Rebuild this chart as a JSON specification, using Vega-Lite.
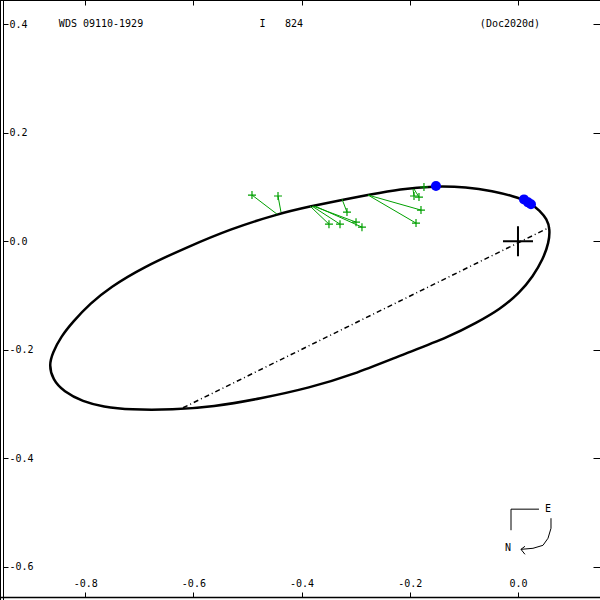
{
  "$schema": "https://vega.github.io/schema/vega-lite/v6.json",
  "width": 600,
  "height": 600,
  "padding": 0,
  "autosize": {"type": "none"},
  "background": "white",
  "config": {
    "view": {"stroke": "black", "strokeWidth": 1},
    "axis": {"grid": false, "tickColor": "black", "domainColor": "black", "labelColor": "black", "labelFont": "DejaVu Sans Mono", "labelFontSize": 10, "title": null, "tickWidth": 1, "domainWidth": 1},
    "text": {"font": "DejaVu Sans Mono", "fontSize": 10, "color": "black"}
  },
  "datasets": {
    "orbit": [
      {"i": 0, "x": 0.0591, "y": 0.0222},
      {"i": 1, "x": 0.0536, "y": 0.0407},
      {"i": 2, "x": 0.0407, "y": 0.0555},
      {"i": 3, "x": 0.0222, "y": 0.0721},
      {"i": 4, "x": -0.0092, "y": 0.0832},
      {"i": 5, "x": -0.0462, "y": 0.0924},
      {"i": 6, "x": -0.0943, "y": 0.1000},
      {"i": 7, "x": -0.1571, "y": 0.1017},
      {"i": 8, "x": -0.2181, "y": 0.0961},
      {"i": 9, "x": -0.2736, "y": 0.0860},
      {"i": 10, "x": -0.3235, "y": 0.0765},
      {"i": 11, "x": -0.3845, "y": 0.0640},
      {"i": 12, "x": -0.4455, "y": 0.0499},
      {"i": 13, "x": -0.5323, "y": 0.0222},
      {"i": 14, "x": -0.6118, "y": -0.0111},
      {"i": 15, "x": -0.6932, "y": -0.0481},
      {"i": 16, "x": -0.7542, "y": -0.0850},
      {"i": 17, "x": -0.7911, "y": -0.1150},
      {"i": 18, "x": -0.8226, "y": -0.1480},
      {"i": 19, "x": -0.8450, "y": -0.1760},
      {"i": 20, "x": -0.8600, "y": -0.2050},
      {"i": 21, "x": -0.8670, "y": -0.2280},
      {"i": 22, "x": -0.8600, "y": -0.2550},
      {"i": 23, "x": -0.8400, "y": -0.2770},
      {"i": 24, "x": -0.8041, "y": -0.2957},
      {"i": 25, "x": -0.7671, "y": -0.3050},
      {"i": 26, "x": -0.7172, "y": -0.3105},
      {"i": 27, "x": -0.6377, "y": -0.3105},
      {"i": 28, "x": -0.5638, "y": -0.3050},
      {"i": 29, "x": -0.4769, "y": -0.2902},
      {"i": 30, "x": -0.3845, "y": -0.2699},
      {"i": 31, "x": -0.3050, "y": -0.2458},
      {"i": 32, "x": -0.2181, "y": -0.2107},
      {"i": 33, "x": -0.1257, "y": -0.1756},
      {"i": 34, "x": -0.0758, "y": -0.1497},
      {"i": 35, "x": -0.0333, "y": -0.1257},
      {"i": 36, "x": 0.0037, "y": -0.0943},
      {"i": 37, "x": 0.0277, "y": -0.0647},
      {"i": 38, "x": 0.0462, "y": -0.0333},
      {"i": 39, "x": 0.0573, "y": -0.0018}
    ],
    "apsides": [
      {"x": -0.6192, "y": -0.3068},
      {"x": 0.0591, "y": 0.0259}
    ],
    "resid": [
      {"xm": -0.4917, "ym": 0.0850, "xo": -0.4455, "yo": 0.0499},
      {"xm": -0.4436, "ym": 0.0832, "xo": -0.4381, "yo": 0.0536},
      {"xm": -0.3494, "ym": 0.0314, "xo": -0.3845, "yo": 0.0647},
      {"xm": -0.3290, "ym": 0.0314, "xo": -0.3808, "yo": 0.0647},
      {"xm": -0.2994, "ym": 0.0351, "xo": -0.3789, "yo": 0.0647},
      {"xm": -0.2884, "ym": 0.0259, "xo": -0.3752, "yo": 0.0647},
      {"xm": -0.3161, "ym": 0.0536, "xo": -0.3253, "yo": 0.0776},
      {"xm": -0.1793, "ym": 0.0573, "xo": -0.2773, "yo": 0.0850},
      {"xm": -0.1885, "ym": 0.0333, "xo": -0.2773, "yo": 0.0850},
      {"xm": -0.1922, "ym": 0.0832, "xo": -0.1941, "yo": 0.0961},
      {"xm": -0.1830, "ym": 0.0813, "xo": -0.1922, "yo": 0.0961},
      {"xm": -0.1738, "ym": 0.0998, "xo": -0.1738, "yo": 0.0998}
    ],
    "blue": [
      {"x": -0.1516, "y": 0.1017},
      {"x": 0.0111, "y": 0.0770},
      {"x": 0.0185, "y": 0.0715},
      {"x": 0.0240, "y": 0.0680}
    ],
    "primary": [{"x": 0, "y": 0}],
    "compass": [
      {"seg": "a", "i": 0, "x": 0.0388, "y": -0.4935},
      {"seg": "a", "i": 1, "x": -0.0129, "y": -0.4935},
      {"seg": "a", "i": 2, "x": -0.0129, "y": -0.5323},
      {"seg": "b", "i": 0, "x": 0.0610, "y": -0.5102},
      {"seg": "b", "i": 1, "x": 0.0610, "y": -0.5287},
      {"seg": "b", "i": 2, "x": 0.0555, "y": -0.5471},
      {"seg": "b", "i": 3, "x": 0.0462, "y": -0.5601},
      {"seg": "b", "i": 4, "x": 0.0277, "y": -0.5656},
      {"seg": "b", "i": 5, "x": 0.0055, "y": -0.5675},
      {"seg": "c", "i": 0, "x": 0.0129, "y": -0.5619},
      {"seg": "c", "i": 1, "x": 0.0055, "y": -0.5675},
      {"seg": "c", "i": 2, "x": 0.0129, "y": -0.5767}
    ],
    "texts": [
      {"x": -0.7708, "y": 0.4, "t": "WDS 09110-1929"},
      {"x": -0.4723, "y": 0.4, "t": "I"},
      {"x": -0.4140, "y": 0.4, "t": "824"},
      {"x": -0.0148, "y": 0.4, "t": "(Doc2020d)"},
      {"x": 0.0555, "y": -0.4935, "t": "E"},
      {"x": -0.0185, "y": -0.5656, "t": "N"}
    ]
  },
  "layer": [
    {
      "data": {"name": "orbit"},
      "mark": {"type": "line", "color": "black", "strokeWidth": 2.5, "interpolate": "basis-closed"},
      "encoding": {
        "x": {"field": "x", "type": "quantitative", "scale": {"domain": [-0.9575, 0.1516], "nice": false, "zero": false},
          "axis": {"orient": "bottom", "values": [-0.8, -0.6, -0.4, -0.2, 0.0], "tickSize": -5, "labelPadding": -9, "labelBaseline": "middle", "offset": -3, "domain": true, "domainWidth": 1.5,
            "labelExpr": "replace(format(datum.value, '.1f'), '\u2212', '-')"}},
        "y": {"field": "y", "type": "quantitative", "scale": {"domain": [-0.6608, 0.4442], "nice": false, "zero": false},
          "axis": {"orient": "left", "values": [-0.6, -0.4, -0.2, 0.0, 0.2, 0.4], "tickSize": -5, "labelPadding": -1, "labelAlign": "left", "offset": -3, "domain": true,
            "labelExpr": "replace(format(datum.value, '.1f'), '\u2212', '-')"}},
        "order": {"field": "i", "type": "quantitative"}
      }
    },
    {
      "data": {"name": "apsides"},
      "mark": {"type": "line", "color": "black", "strokeWidth": 1.5, "strokeDash": [5, 3, 1, 3]},
      "encoding": {
        "x": {"field": "x", "type": "quantitative", "axis": {"orient": "top", "values": [-0.8, -0.6, -0.4, -0.2, 0.0], "tickSize": -5, "labels": false, "domain": false}},
        "y": {"field": "y", "type": "quantitative", "axis": {"orient": "right", "values": [-0.6, -0.4, -0.2, 0.0, 0.2, 0.4], "tickSize": -7, "labels": false, "domain": false}}
      }
    },
    {
      "data": {"name": "resid"},
      "mark": {"type": "rule", "color": "#00a000", "strokeWidth": 1},
      "encoding": {
        "x": {"field": "xm", "type": "quantitative"},
        "y": {"field": "ym", "type": "quantitative"},
        "x2": {"field": "xo"},
        "y2": {"field": "yo"}
      }
    },
    {
      "data": {"name": "resid"},
      "mark": {"type": "point", "shape": "M-1,0H1M0,-1V1", "filled": false, "stroke": "#00a000", "strokeWidth": 1.2, "size": 64, "opacity": 1},
      "encoding": {
        "x": {"field": "xm", "type": "quantitative"},
        "y": {"field": "ym", "type": "quantitative"}
      }
    },
    {
      "data": {"name": "blue"},
      "mark": {"type": "circle", "color": "#0000ff", "size": 100, "opacity": 1},
      "encoding": {
        "x": {"field": "x", "type": "quantitative"},
        "y": {"field": "y", "type": "quantitative"}
      }
    },
    {
      "data": {"name": "primary"},
      "mark": {"type": "point", "shape": "M-1,0H1M0,-1V1", "filled": false, "stroke": "black", "strokeWidth": 2, "size": 900, "opacity": 1},
      "encoding": {
        "x": {"field": "x", "type": "quantitative"},
        "y": {"field": "y", "type": "quantitative"}
      }
    },
    {
      "data": {"name": "compass"},
      "mark": {"type": "line", "color": "black", "strokeWidth": 1},
      "encoding": {
        "x": {"field": "x", "type": "quantitative"},
        "y": {"field": "y", "type": "quantitative"},
        "detail": {"field": "seg"},
        "order": {"field": "i", "type": "quantitative"}
      }
    },
    {
      "data": {"name": "texts"},
      "mark": {"type": "text", "baseline": "middle", "align": "center"},
      "encoding": {
        "x": {"field": "x", "type": "quantitative"},
        "y": {"field": "y", "type": "quantitative"},
        "text": {"field": "t"}
      }
    }
  ]
}
